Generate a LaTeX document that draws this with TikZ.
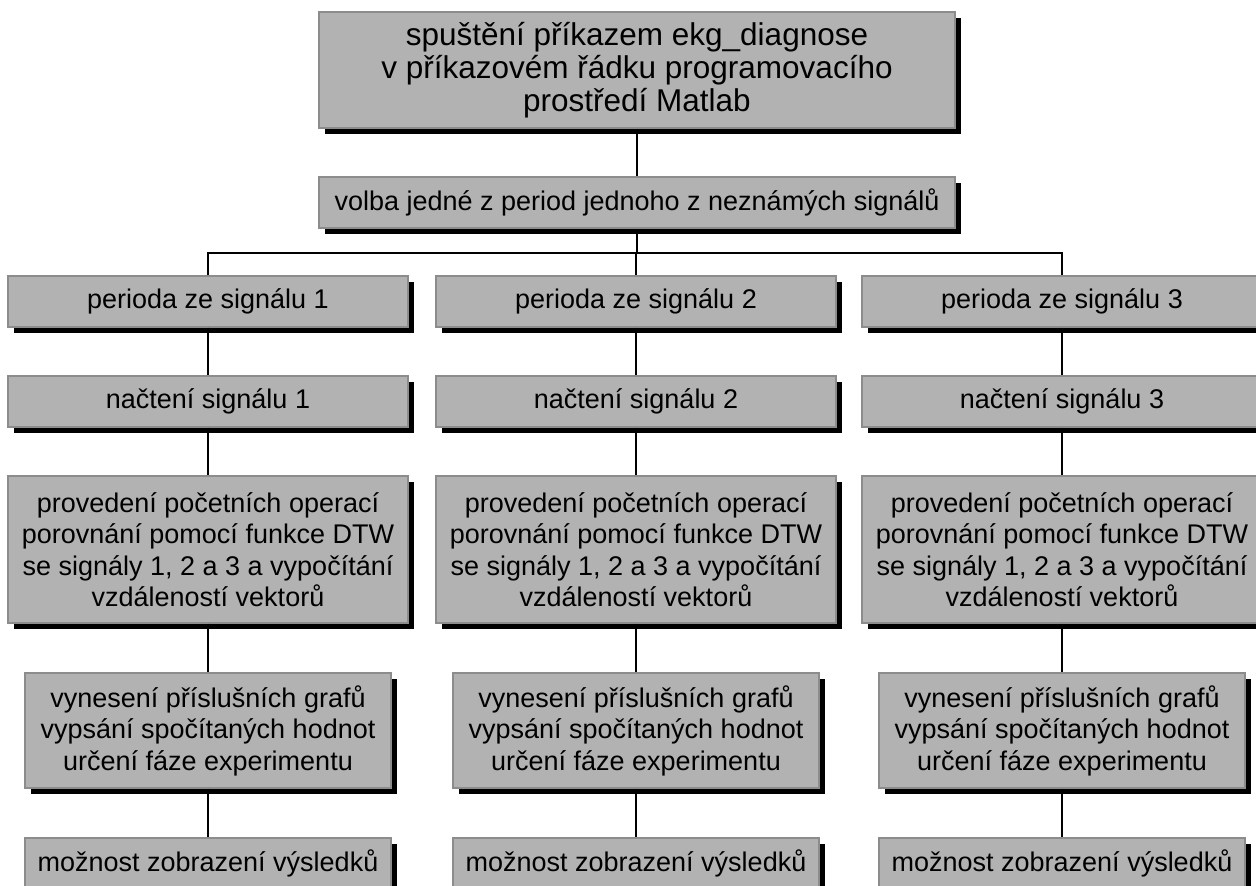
\documentclass[tikz,border=0pt]{standalone}
\usepackage{fontspec}
\setmainfont{Liberation Sans}
\usetikzlibrary{shadows}
\definecolor{boxfill}{HTML}{B2B2B2}
\definecolor{boxedge}{HTML}{8C8C8C}
\begin{document}
\begin{tikzpicture}[x=1pt, y=-1pt,
  box/.style={rectangle, draw=boxedge, line width=1.3pt, fill=boxfill,
    inner sep=0pt, align=center, text=black,
    font=\fontsize{27}{31.5}\selectfont,
    drop shadow={shadow xshift=6pt, shadow yshift=-6pt, fill=black, opacity=1}},
  wide/.style={box, minimum width=400pt},
  narrow/.style={box, minimum width=366pt},
  link/.style={draw=black, line width=1.4pt}]

\useasboundingbox (0,0) rectangle (1256,886);

% program start and choice of period
\node[box, minimum width=636pt, minimum height=116pt,
      font=\fontsize{31.5}{33}\selectfont] (start) at (637,70)
  {spuštění příkazem ekg\_diagnose\\ v příkazovém řádku programovacího\\ prostředí Matlab};
\node[box, minimum width=636pt, minimum height=51pt] (choose) at (637,202.5)
  {volba jedné z period jednoho z neznámých signálů};
\coordinate (bus) at (636,253);

% one processing column per signal
\foreach \i/\x in {1/208, 2/636, 3/1062} {
  \node[wide, minimum height=51pt] (p\i) at (\x,301.5) {perioda ze signálu \i};
  \node[wide, minimum height=51pt] (n\i) at (\x,401.5) {načtení signálu \i};
  \node[wide, minimum height=147pt] (c\i) at (\x,549.5)
    {provedení početních operací\\ porovnání pomocí funkce DTW\\ se signály 1, 2 a 3 a vypočítání\\ vzdáleností vektorů};
  \node[narrow, minimum height=115pt] (g\i) at (\x,730.5)
    {vynesení příslušních grafů\\ vypsání spočítaných hodnot\\ určení fáze experimentu};
  \node[narrow, minimum height=51pt] (r\i) at (\x,863.5) {možnost zobrazení výsledků};
  \draw[link] (p\i.south) -- (n\i.north);
  \draw[link] (n\i.south) -- (c\i.north);
  \draw[link] (c\i.south) -- (g\i.north);
  \draw[link] (g\i.south) -- (r\i.north);
}

% connections from the top
\draw[link] (start.south) -- (start.south |- choose.north);
\draw[link] (choose.south) -- (choose.south |- bus);
\draw[link] (p1.north) -- (p1.north |- bus) -- (p3.north |- bus) -- (p3.north);
\draw[link] (p2.north |- bus) -- (p2.north);
\end{tikzpicture}
\end{document}
